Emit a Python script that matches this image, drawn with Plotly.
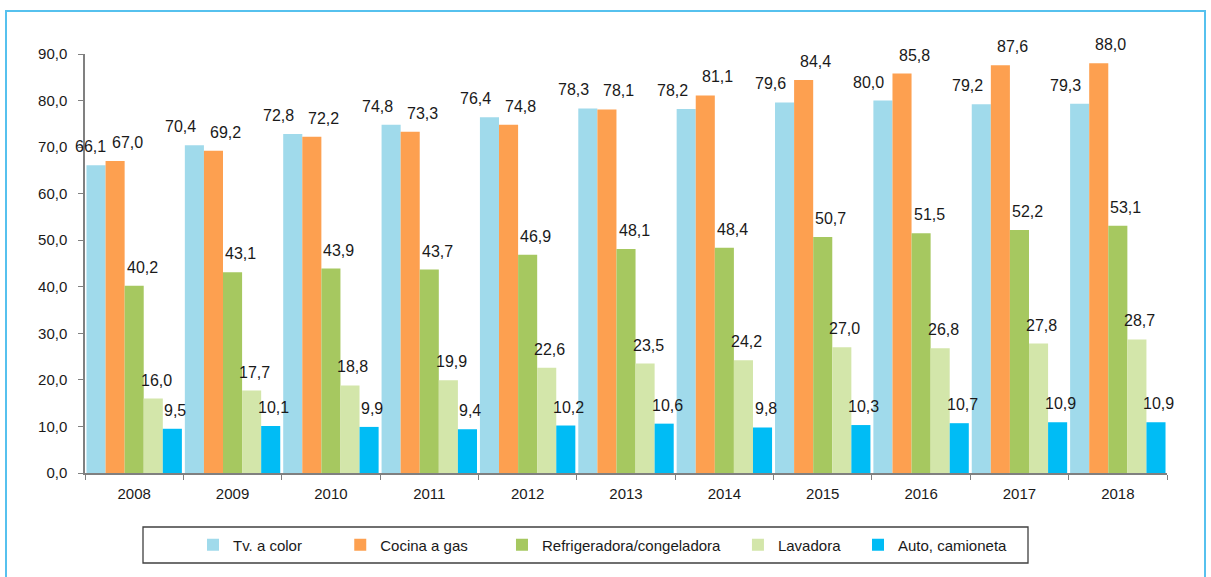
import plotly.graph_objects as go

years = ["2008", "2009", "2010", "2011", "2012", "2013", "2014", "2015", "2016", "2017", "2018"]
tv_color = [66.1, 70.4, 72.8, 74.8, 76.4, 78.3, 78.2, 79.6, 80.0, 79.2, 79.3]
cocina_gas = [67.0, 69.2, 72.2, 73.3, 74.8, 78.1, 81.1, 84.4, 85.8, 87.6, 88.0]
refrigeradora = [40.2, 43.1, 43.9, 43.7, 46.9, 48.1, 48.4, 50.7, 51.5, 52.2, 53.1]
lavadora = [16.0, 17.7, 18.8, 19.9, 22.6, 23.5, 24.2, 27.0, 26.8, 27.8, 28.7]
auto = [9.5, 10.1, 9.9, 9.4, 10.2, 10.6, 9.8, 10.3, 10.7, 10.9, 10.9]
y_ticks = [0, 10, 20, 30, 40, 50, 60, 70, 80, 90]

# name, values, colour, label x-shift (px), legend padding (nbsp count)
series = [
    ("Tv. a color", tv_color, "#A0DAEB", -14, 8),
    ("Cocina a gas", cocina_gas, "#FDA050", 12, 7),
    ("Refrigeradora/congeladora", refrigeradora, "#A6C860", 8, 3),
    ("Lavadora", lavadora, "#D3E6AA", 3, 3),
    ("Auto, camioneta", auto, "#00BCF5", 3, 0),
]

FONT = "Liberation Sans, Arial, sans-serif"
L, R, T, B = 85, 44, 54, 104
PW, PH = 1211 - L - R, 577 - T - B


def px_x(px):
    return (px - L) / PW


def px_y(py):
    return (577 - B - py) / PH


fig = go.Figure()
annotations = []
n = len(series)
for k, (name, vals, color, xs, pad) in enumerate(series):
    fig.add_trace(go.Bar(
        name=name + "\u00a0" * pad, x=years, y=vals, marker_color=color,
        marker_line_width=0, offsetgroup=str(k),
    ))
    for i, v in enumerate(vals):
        shift = xs
        if k == 0 and i == 0:
            shift = -6
        annotations.append(dict(
            x=i + (k - (n - 1) / 2) * 0.194, y=v, xref="x", yref="y",
            text=f"{v:.1f}".replace(".", ","), showarrow=False,
            yanchor="bottom", xanchor="center", yshift=8, xshift=shift,
            font=dict(family=FONT, size=16, color="#1a1a1a"),
        ))

fig.update_layout(
    width=1211, height=577,
    margin=dict(l=L, r=R, t=T, b=B),
    paper_bgcolor="white", plot_bgcolor="white",
    barmode="group", bargap=0.03, bargroupgap=0,
    separators=",.",
    font=dict(family=FONT, size=15, color="#1a1a1a"),
    showlegend=True,
    legend=dict(orientation="h", x=px_x(193), xanchor="left", y=px_y(545), yanchor="middle",
                font=dict(family=FONT, size=15, color="#1a1a1a"),
                bgcolor="rgba(0,0,0,0)", borderwidth=0, itemwidth=30,
                traceorder="normal"),
    annotations=annotations,
    shapes=[
        dict(type="rect", xref="paper", yref="paper",
             x0=px_x(6), x1=px_x(1205), y0=px_y(580), y1=px_y(11),
             line=dict(color="#56C1EE", width=2), fillcolor="rgba(0,0,0,0)", layer="below"),
        dict(type="rect", xref="paper", yref="paper",
             x0=px_x(143), x1=px_x(1028), y0=px_y(563), y1=px_y(527),
             line=dict(color="#404040", width=1.3), fillcolor="rgba(0,0,0,0)", layer="below"),
    ],
)
fig.update_xaxes(
    type="category", showline=True, linecolor="#808080", linewidth=1.5,
    ticks="outside", tickson="boundaries", ticklen=5, tickcolor="#808080",
    showgrid=False, tickfont=dict(family=FONT, size=15), range=[-0.5, 10.5],
    ticklabelstandoff=6,
)
fig.update_yaxes(
    range=[0, 90], tickvals=y_ticks, tickformat=".1f",
    showline=True, linecolor="#808080", linewidth=1.5,
    ticks="outside", ticklen=5, tickcolor="#808080",
    showgrid=False, zeroline=False, tickfont=dict(family=FONT, size=15),
    ticklabelstandoff=8,
)

fig.write_html(
    "out.html",
    config={"displayModeBar": False},
    post_script="document.body.style.margin='0';document.body.style.overflow='hidden';",
)
